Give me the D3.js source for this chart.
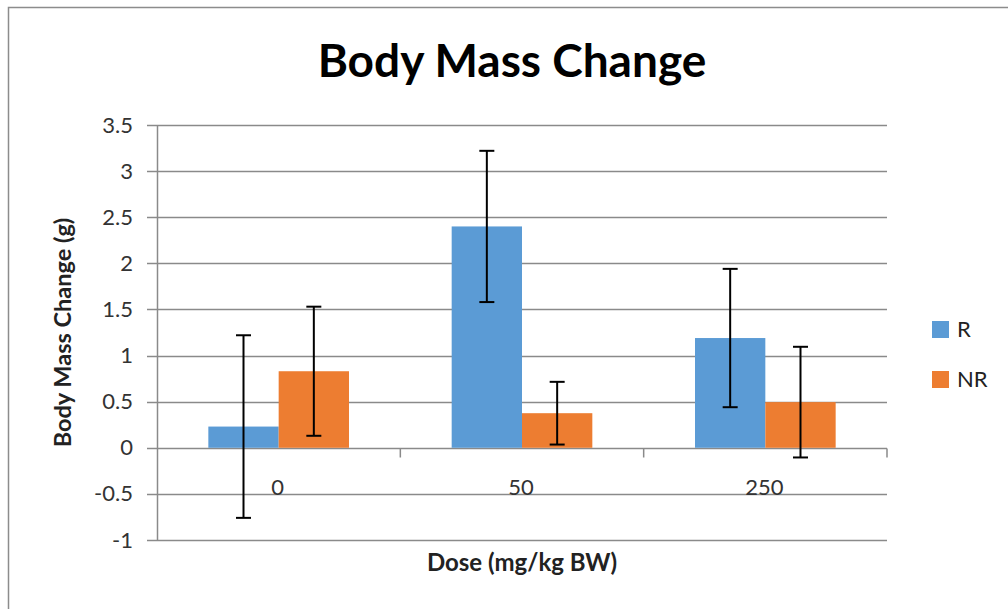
<!DOCTYPE html>
<html>
<head>
<meta charset="utf-8">
<script src="https://cdn.jsdelivr.net/npm/d3@7"></script>
<style>
  html, body { margin: 0; padding: 0; background: #fff; }
  svg { display: block; }
</style>
</head>
<body>
<svg id="chart" width="1008" height="609"></svg>
<script>
// ---- data ----
const categories = ["0", "50", "250"];
const seriesNames = ["R", "NR"];
const valuesR  = [0.23, 2.40, 1.19];
const valuesNR = [0.83, 0.375, 0.495];
const errorsR  = [0.99, 0.82, 0.75];
const errorsNR = [0.70, 0.34, 0.60];
const yTicks = [-1, -0.5, 0, 0.5, 1, 1.5, 2, 2.5, 3, 3.5];
const titleText = "Body Mass Change";
const yTitle = "Body Mass Change (g)";
const xTitle = "Dose (mg/kg BW)";
const colors = { R: "#5B9BD5", NR: "#ED7D31" };

const seriesData = { R: { v: valuesR, e: errorsR }, NR: { v: valuesNR, e: errorsNR } };

const svg = d3.select("#chart");
const plot = { left: 157, right: 887, top: 125, bottom: 540 };
const font = "Lato, 'Open Sans', 'Liberation Sans', sans-serif";

// outer border
svg.append("rect").attr("x", 8.5).attr("y", 7.5).attr("width", 1010).attr("height", 620)
  .attr("fill", "#fff").attr("stroke", "#8c8c8c").attr("stroke-width", 1.5);

const y = d3.scaleLinear().domain([-1, 3.5]).range([plot.bottom, plot.top]);
const x0 = d3.scaleBand().domain(categories).range([plot.left, plot.right]).padding(0);
const x1 = d3.scaleBand().domain(seriesNames).range([0, x0.bandwidth()]).paddingInner(0).paddingOuter(0.73);

// gridlines
svg.append("g").selectAll("line").data(yTicks).join("line")
  .attr("x1", plot.left - 10).attr("x2", plot.right)
  .attr("y1", d => Math.round(y(d)) + 0.5).attr("y2", d => Math.round(y(d)) + 0.5)
  .attr("stroke", "#8a8a8a").attr("stroke-width", 1.5);

// y axis
const yAxis = d3.axisLeft(y).tickValues(yTicks).tickSize(10).tickPadding(14)
  .tickFormat(d => String(d));
const gy = svg.append("g").attr("transform", `translate(${plot.left},0)`).call(yAxis);
gy.select(".domain").attr("stroke", "#8a8a8a").attr("stroke-width", 1.5)
  .attr("d", `M0.5,${y(3.5)}V${y(-1)}`);
gy.selectAll(".tick line").remove();
gy.selectAll("text").attr("font-family", font).attr("font-size", 22).attr("fill", "#333");

// x axis line at 0 + category ticks
const zeroY = Math.round(y(0)) + 0.5;
const boundaries = categories.map(c => x0(c) + x0.bandwidth());
svg.append("g").selectAll("line").data(boundaries).join("line")
  .attr("x1", d => d).attr("x2", d => d)
  .attr("y1", zeroY).attr("y2", zeroY + 9)
  .attr("stroke", "#8a8a8a").attr("stroke-width", 1.5);

// x tick labels
svg.append("g").selectAll("text").data(categories).join("text")
  .attr("x", d => x0(d) + x0.bandwidth() / 2 - 1)
  .attr("y", zeroY + 46)
  .attr("text-anchor", "middle")
  .attr("font-family", font).attr("font-size", 22).attr("fill", "#333")
  .text(d => d);

// bars
const groups = svg.append("g").selectAll("g").data(categories).join("g")
  .attr("transform", d => `translate(${x0(d)},0)`);

seriesNames.forEach(s => {
  groups.append("rect")
    .attr("x", () => x1(s))
    .attr("width", x1.bandwidth())
    .attr("y", (d, i) => Math.min(y(seriesData[s].v[i]), y(0)))
    .attr("height", (d, i) => Math.abs(y(0) - y(seriesData[s].v[i])))
    .attr("fill", colors[s]);
});

// error bars
seriesNames.forEach(s => {
  const eg = groups.append("g").attr("stroke", "#000").attr("stroke-width", 2);
  const cx = x1(s) + x1.bandwidth() / 2;
  eg.append("line")
    .attr("x1", cx).attr("x2", cx)
    .attr("y1", (d, i) => y(seriesData[s].v[i] + seriesData[s].e[i]))
    .attr("y2", (d, i) => y(seriesData[s].v[i] - seriesData[s].e[i]));
  [1, -1].forEach(sign => {
    eg.append("line")
      .attr("x1", cx - 7.5).attr("x2", cx + 7.5)
      .attr("y1", (d, i) => y(seriesData[s].v[i] + sign * seriesData[s].e[i]))
      .attr("y2", (d, i) => y(seriesData[s].v[i] + sign * seriesData[s].e[i]));
  });
});

// title
svg.append("text").attr("x", 512).attr("y", 77).attr("text-anchor", "middle")
  .attr("font-family", font).attr("font-weight", "bold").attr("font-size", 46)
  .attr("fill", "#000").text(titleText);

// axis titles
svg.append("text")
  .attr("transform", `translate(71,${(plot.top + plot.bottom) / 2}) rotate(-90)`)
  .attr("text-anchor", "middle")
  .attr("font-family", font).attr("font-weight", "bold").attr("font-size", 23.5)
  .attr("fill", "#222").text(yTitle);

svg.append("text").attr("x", (plot.left + plot.right) / 2).attr("y", 571)
  .attr("text-anchor", "middle")
  .attr("font-family", font).attr("font-weight", "bold").attr("font-size", 24)
  .attr("fill", "#222").text(xTitle);

// legend
const legend = svg.append("g").selectAll("g").data(seriesNames).join("g")
  .attr("transform", (d, i) => `translate(932,${321 + i * 50})`);
legend.append("rect").attr("width", 17).attr("height", 17).attr("fill", d => colors[d]);
legend.append("text").attr("x", 25).attr("y", 16)
  .attr("font-family", font).attr("font-size", 22).attr("fill", "#222").text(d => d);
</script>
</body>
</html>
